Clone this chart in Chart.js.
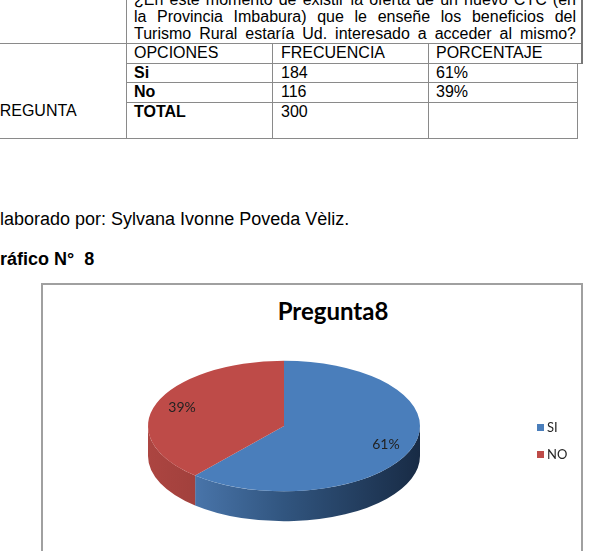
<!DOCTYPE html>
<html>
<head>
<meta charset="utf-8">
<script src="https://cdn.jsdelivr.net/npm/chart.js@4"></script>
<style>
  html, body { margin: 0; padding: 0; background: #fff; }
  body { width: 592px; height: 551px; position: relative; overflow: hidden;
         font-family: "Liberation Sans", Arial, sans-serif; color: #000; }
  .t { position: absolute; white-space: nowrap; font-size: 16px; line-height: 18px; }
  .q { position: absolute; left: 134px; width: 442px; font-size: 16px; line-height: 18px;
       text-align: justify; text-align-last: justify; white-space: nowrap; }
  .b { font-weight: bold; }
  .h { position: absolute; height: 1px; background: #8a8a8a; }
  .v { position: absolute; width: 1px; background: #8a8a8a; }
  .body18 { position: absolute; white-space: nowrap; font-size: 18px; line-height: 22px; }
  #box { position: absolute; left: 41px; top: 283px; width: 542px; height: 290px;
         box-sizing: border-box; border: 2px solid #a0a0a0; }
  #chartWrap { position: absolute; left: 43px; top: 285px; width: 539px; height: 266px; }
  #chartTitle { position: absolute; left: 233px; width: 200px; top: 297px; text-align: center;
                font-family: Lato, "Open Sans", sans-serif; font-weight: bold; font-size: 24px;
                line-height: 28px; color: #000; }
  #legend { position: absolute; left: 537px; top: 418px; font-family: Lato, "Open Sans", sans-serif;
            font-size: 13px; color: #262626; }
  #legend div { height: 27px; line-height: 18px; white-space: nowrap; }
  #legend span.sw { display: inline-block; width: 7px; height: 7px; margin-right: 3px; vertical-align: 1px; }
</style>
</head>
<body>

<!-- tabla de la pregunta -->
<div class="q" style="top:-9px">¿En este momento de existir la oferta de un nuevo CTC (en</div>
<div class="q" style="top:8px">la Provincia Imbabura) que le enseñe los beneficios del</div>
<div class="q" style="top:25px">Turismo Rural estaría Ud. interesado a acceder al mismo?</div>

<div class="h" style="left:0;top:43px;width:582px"></div>
<div class="h" style="left:126px;top:63px;width:456px"></div>
<div class="h" style="left:126px;top:82px;width:452px"></div>
<div class="h" style="left:126px;top:102px;width:452px"></div>
<div class="h" style="left:0;top:138px;width:578px"></div>
<div class="v" style="left:126px;top:0;height:139px"></div>
<div class="v" style="left:272px;top:43px;height:96px"></div>
<div class="v" style="left:428px;top:43px;height:96px"></div>
<div class="v" style="left:581px;top:0;height:64px;width:2px;background:#777"></div>
<div class="v" style="left:577px;top:63px;height:76px"></div>

<div class="t" style="left:134px;top:44px">OPCIONES</div>
<div class="t" style="left:281px;top:44px">FRECUENCIA</div>
<div class="t" style="left:436px;top:44px">PORCENTAJE</div>
<div class="t b" style="left:134px;top:64px">Si</div>
<div class="t" style="left:281px;top:64px">184</div>
<div class="t" style="left:436px;top:64px">61%</div>
<div class="t b" style="left:134px;top:83px">No</div>
<div class="t" style="left:281px;top:83px">116</div>
<div class="t" style="left:436px;top:83px">39%</div>
<div class="t b" style="left:134px;top:103px">TOTAL</div>
<div class="t" style="left:281px;top:103px">300</div>
<div class="t" style="left:-11px;top:102px">PREGUNTA</div>

<div class="body18" style="left:-12px;top:208px">Elaborado por: Sylvana Ivonne Poveda Vèliz.</div>
<div class="body18 b" style="left:-14px;top:248px">Gráfico N°&nbsp; 8</div>

<!-- grafico -->
<div id="box"></div>
<div id="chartTitle">Pregunta8</div>
<div id="chartWrap"><canvas id="pieChart"></canvas></div>
<div id="legend"></div>

<script>
// --- Data ---
const opciones = ['SI', 'NO'];
const frecuencia = [184, 116];
const colores = ['#4a7ebb', '#be4b48'];
const coloresLado = [
    ['#5585c0', '#31557f', '#182b45'],
    ['#ac4541', '#8e3834', '#6e2a28']
];

const total = frecuencia.reduce((a, b) => a + b, 0);
const porcentajes = frecuencia.map(v => Math.round(v / total * 100) + '%');

// --- Legend (html) ---
const legendEl = document.getElementById('legend');
opciones.forEach((op, i) => {
    const row = document.createElement('div');
    row.innerHTML = '<span class="sw" style="background:' + colores[i] + '"></span>' + op;
    legendEl.appendChild(row);
});

// --- 3D pie effect: side wall + squashed top face + labels ---
const pie3d = {
    id: 'pie3d',
    beforeDatasetsDraw(chart, args, opts) {
        const ctx = chart.ctx;
        const arcs = chart.getDatasetMeta(0).data;
        if (!arcs.length) return;
        const { x, y, outerRadius: r } = arcs[0].getProps(['x', 'y', 'outerRadius'], true);
        const ry = r * opts.tilt;

        // only the front half (0..PI) of the wall can be seen
        arcs.forEach((arc, i) => {
            const { startAngle, endAngle } = arc.getProps(['startAngle', 'endAngle'], true);
            const s = Math.max(startAngle, 0);
            const e = Math.min(endAngle, Math.PI);
            if (s >= e) return;
            const grad = ctx.createLinearGradient(x - r, 0, x + r, 0);
            const stops = coloresLado[i];
            grad.addColorStop(0, stops[0]);
            grad.addColorStop(0.5, stops[1]);
            grad.addColorStop(1, stops[2]);
            ctx.beginPath();
            ctx.ellipse(x, y, r, ry, 0, s, e);
            ctx.ellipse(x, y + opts.depth, r, ry, 0, e, s, true);
            ctx.closePath();
            ctx.fillStyle = grad;
            ctx.fill();
        });

        ctx.save();
        ctx.translate(x, y);
        ctx.scale(1, opts.tilt);
        ctx.translate(-x, -y);
    },
    afterDatasetsDraw(chart, args, opts) {
        const ctx = chart.ctx;
        ctx.restore();
        const arcs = chart.getDatasetMeta(0).data;
        ctx.save();
        ctx.font = '14px Lato, "Open Sans", sans-serif';
        ctx.fillStyle = '#222';
        ctx.textAlign = 'center';
        ctx.textBaseline = 'middle';
        arcs.forEach((arc, i) => {
            const { x, y, startAngle, endAngle, outerRadius } =
                arc.getProps(['x', 'y', 'startAngle', 'endAngle', 'outerRadius'], true);
            const mid = (startAngle + endAngle) / 2;
            const lx = x + Math.cos(mid) * outerRadius * 0.8;
            const ly = y + Math.sin(mid) * outerRadius * 0.8 * opts.tilt;
            ctx.fillText(porcentajes[i], lx, ly);
        });
        ctx.restore();
    }
};

const ctx = document.getElementById('pieChart').getContext('2d');
new Chart(ctx, {
    type: 'pie',
    data: {
        labels: opciones,
        datasets: [{
            data: frecuencia,
            backgroundColor: colores,
            borderWidth: 0,
            radius: 136,
            clip: false
        }]
    },
    options: {
        responsive: true,
        maintainAspectRatio: false,
        animation: false,
        events: [],
        layout: { padding: { left: 0, right: 57, top: 16, bottom: 0 } },
        plugins: {
            legend: { display: false },
            title: { display: false },
            tooltip: { enabled: false },
            pie3d: { tilt: 0.48, depth: 30 }
        }
    },
    plugins: [pie3d]
});
</script>
</body>
</html>
